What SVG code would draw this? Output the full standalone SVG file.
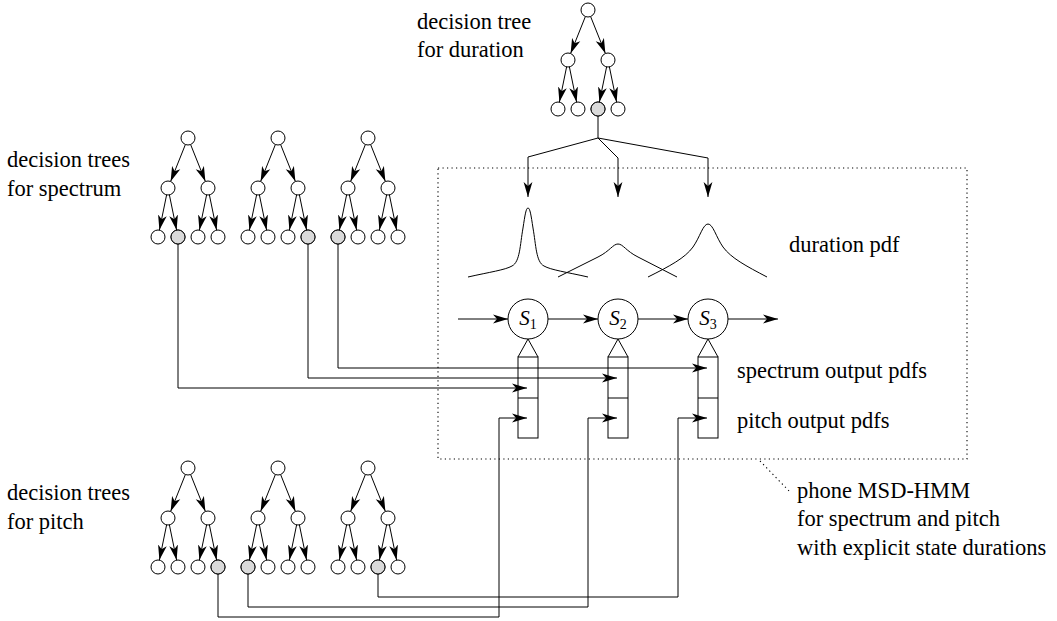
<svg xmlns="http://www.w3.org/2000/svg" xmlns:xlink="http://www.w3.org/1999/xlink" width="1057" height="621" viewBox="0 0 1057 621">
<style>
  .t{font-size:22.5px;fill:#000}
  .s{font-size:21px;font-style:italic;fill:#000}
  .n{fill:#fff;stroke:#000;stroke-width:1}
  .g{fill:#dadada;stroke:#000;stroke-width:1}
  .e{stroke:#000;stroke-width:1;fill:none;marker-end:url(#ah)}
  .l{stroke:#000;stroke-width:1;fill:none}
  .d{stroke:#000;stroke-width:1.1;fill:none;stroke-dasharray:1.2 3.3}
</style>
<defs>
  <marker id="ah" viewBox="-15 -5 15 10" refX="0" refY="0" markerWidth="15" markerHeight="10" orient="auto" markerUnits="userSpaceOnUse">
    <path d="M0,0 L-15,-4.4 L-11,0 L-15,4.4 Z" fill="#000"/>
  </marker>
  <g id="tree">
    <line class="e" x1="-2.6" y1="6.5" x2="-17.4" y2="43.5"/>
    <line class="e" x1="2.6" y1="6.5" x2="17.4" y2="43.5"/>
    <line class="e" x1="-21.4" y1="56.9" x2="-28.6" y2="92.1"/>
    <line class="e" x1="-18.6" y1="56.9" x2="-11.4" y2="92.1"/>
    <line class="e" x1="18.6" y1="56.9" x2="11.4" y2="92.1"/>
    <line class="e" x1="21.4" y1="56.9" x2="28.6" y2="92.1"/>
    <circle class="n" cx="0" cy="0" r="7"/>
    <circle class="n" cx="-20" cy="50" r="7"/>
    <circle class="n" cx="20" cy="50" r="7"/>
    <circle class="n" cx="-30" cy="99" r="7"/>
    <circle class="n" cx="-10" cy="99" r="7"/>
    <circle class="n" cx="10" cy="99" r="7"/>
    <circle class="n" cx="30" cy="99" r="7"/>
  </g>
</defs>
<rect width="1057" height="621" fill="#fff"/>

<!-- dotted HMM frame -->
<g id="hmm-frame">
  <rect class="d" x="438" y="168" width="529" height="291"/>
  <path class="d" d="M760,461 L790,492"/>
</g>

<!-- decision trees -->
<g id="tree-duration" transform="translate(588,10)"><use xlink:href="#tree"/><circle class="g" cx="10" cy="99" r="7"/></g>
<g id="tree-spec-1" transform="translate(188,138)"><use xlink:href="#tree"/><circle class="g" cx="-10" cy="99" r="7"/></g>
<g id="tree-spec-2" transform="translate(278,138)"><use xlink:href="#tree"/><circle class="g" cx="30" cy="99" r="7"/></g>
<g id="tree-spec-3" transform="translate(368,138)"><use xlink:href="#tree"/><circle class="g" cx="-30" cy="99" r="7"/></g>
<g id="tree-pitch-1" transform="translate(188,468)"><use xlink:href="#tree"/><circle class="g" cx="30" cy="99" r="7"/></g>
<g id="tree-pitch-2" transform="translate(278,468)"><use xlink:href="#tree"/><circle class="g" cx="-30" cy="99" r="7"/></g>
<g id="tree-pitch-3" transform="translate(368,468)"><use xlink:href="#tree"/><circle class="g" cx="10" cy="99" r="7"/></g>

<!-- duration pdfs -->
<g id="duration-pdfs" class="l">
  <path d="M468,277 C490,272 505,270 512,266 C520,262 520,245 523,228 C525,215 526,208 528,208 C530,208 531,215 533,228 C536,245 536,262 544,266 C551,270 566,272 588,277"/>
  <path d="M558,277 L598,257 C610,251 613,244 618,244 C623,244 626,251 638,257 L677,277"/>
  <path d="M648,277 C670,266 685,258 693,247 C700,237 703,224 708,224 C713,224 716,237 723,247 C731,258 746,266 767,277"/>
</g>

<!-- states -->
<g id="states" font-family="'Liberation Serif','DejaVu Serif','Times New Roman',serif">
<g id="state-1">
  <circle class="n" cx="528" cy="319" r="20"/>
  <text class="s" x="528" y="325" text-anchor="middle">S<tspan font-style="normal" font-size="14" dy="4">1</tspan></text>
  <polyline class="l" points="518,357 528,339 538,357"/>
  <rect class="n" x="518" y="357" width="20" height="81"/>
  <line class="l" x1="518" y1="398" x2="538" y2="398"/>
</g>
<g id="state-2">
  <circle class="n" cx="618" cy="319" r="20"/>
  <text class="s" x="618" y="325" text-anchor="middle">S<tspan font-style="normal" font-size="14" dy="4">2</tspan></text>
  <polyline class="l" points="608,357 618,339 628,357"/>
  <rect class="n" x="608" y="357" width="20" height="81"/>
  <line class="l" x1="608" y1="398" x2="628" y2="398"/>
</g>
<g id="state-3">
  <circle class="n" cx="708" cy="319" r="20"/>
  <text class="s" x="708" y="325" text-anchor="middle">S<tspan font-style="normal" font-size="14" dy="4">3</tspan></text>
  <polyline class="l" points="698,357 708,339 718,357"/>
  <rect class="n" x="698" y="357" width="20" height="81"/>
  <line class="l" x1="698" y1="398" x2="718" y2="398"/>
</g>
</g>

<!-- connectors -->
<g id="connectors">
  <path class="l" d="M598,116 V138"/>
  <path class="e" d="M598,138 L528,157 V197"/>
  <path class="e" d="M598,138 L618,158 V197"/>
  <path class="e" d="M598,138 L708,158 V197"/>
  <path class="e" d="M458,319 H508"/>
  <path class="e" d="M548,319 H598"/>
  <path class="e" d="M638,319 H688"/>
  <path class="e" d="M728,319 H778"/>
  <path class="e" d="M338,244 V368 H707"/>
  <path class="e" d="M308,244 V378 H617"/>
  <path class="e" d="M178,244 V388 H527"/>
  <path class="e" d="M218,574 V617 H499 V418 H527"/>
  <path class="e" d="M248,574 V607 H588 V418 H617"/>
  <path class="e" d="M378,574 V597 H678 V418 H707"/>
</g>

<!-- labels -->
<g id="labels" font-family="'Liberation Serif','DejaVu Serif','Times New Roman',serif">
  <text class="t" x="417" y="29">decision tree</text>
  <text class="t" x="417" y="57">for duration</text>
  <text class="t" x="7" y="167">decision trees</text>
  <text class="t" x="7" y="196">for spectrum</text>
  <text class="t" x="7" y="500">decision trees</text>
  <text class="t" x="7" y="529">for pitch</text>
  <text class="t" x="789" y="252">duration pdf</text>
  <text class="t" x="737" y="378">spectrum output pdfs</text>
  <text class="t" x="737" y="428">pitch output pdfs</text>
  <text class="t" x="797" y="498">phone MSD-HMM</text>
  <text class="t" x="797" y="526">for spectrum and pitch</text>
  <text class="t" x="797" y="555">with explicit state durations</text>
</g>
</svg>
